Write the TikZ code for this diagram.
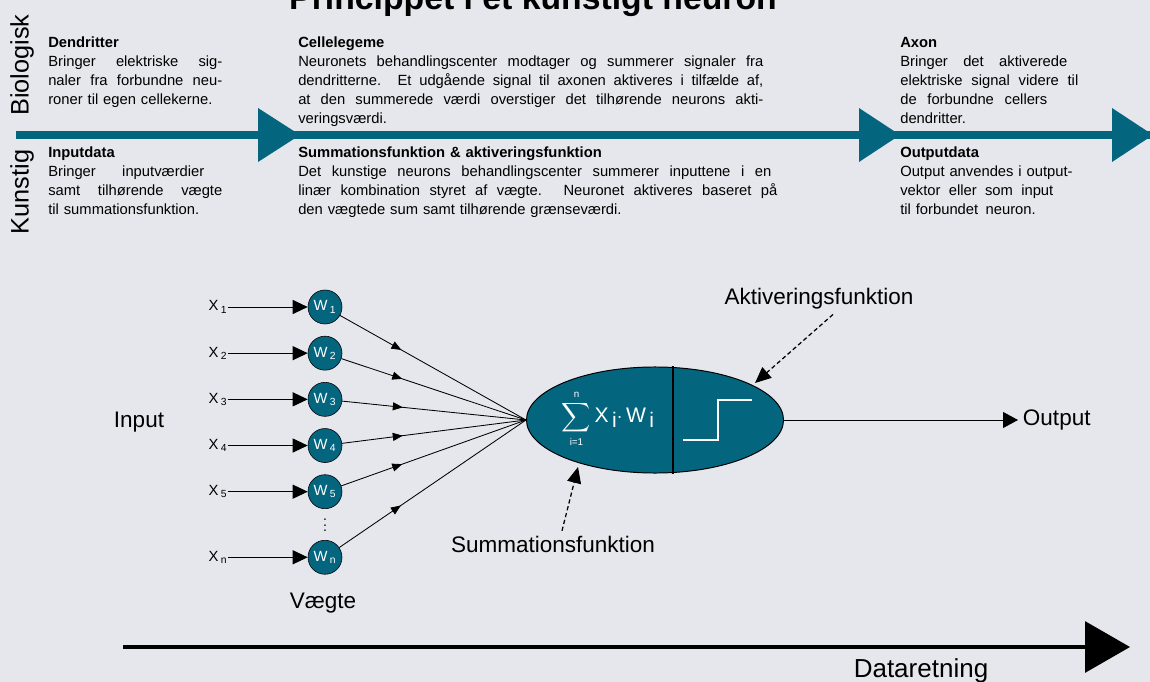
\documentclass[tikz,border=0pt]{standalone}
\usepackage{amsmath}
\usepackage{fontspec}
\setmainfont{Liberation Sans}
\usepackage{tikz}
\usetikzlibrary{shapes.geometric, arrows.meta, positioning, calc, decorations.markings}
\definecolor{bgcol}{HTML}{E5E7EC}
\definecolor{neuroteal}{HTML}{04657F}
% justified line of a given width (align=left fixes the word spaces, so reset them)
\newcommand{\jlw}[2]{{\spaceskip=0pt\xspaceskip=0pt\makebox[#1][s]{#2}}}
\newcommand{\jl}[1]{\jlw{\linewidth}{#1}}
\tikzset{
  infotxt/.style={anchor=north west, inner sep=0pt, align=left,
                  font=\fontsize{10.5}{13.5}\selectfont},
  weight/.style={circle, draw=black, fill=neuroteal, minimum size=0.85cm,
                 inner sep=0pt, text=white, font=\fontsize{10.5}{12}\selectfont},
  xlabel/.style={inner sep=0pt, font=\fontsize{10.5}{12}\selectfont},
  biglabel/.style={font=\fontsize{16}{19}\selectfont},
  sidelabel/.style={rotate=90, font=\fontsize{18}{21}\selectfont},
  feed/.style={-{Triangle[length=0.375cm,width=0.35cm]}, line width=0.7pt},
  synapse/.style={line width=0.6pt, postaction={decorate},
                  decoration={markings, mark=at position 0.33 with {\arrow{Triangle[length=0.25cm,width=0.2cm]}}}},
  pointer/.style={densely dashed, line width=0.9pt, -{Triangle[length=0.4cm,width=0.35cm]}},
  banner/.style={neuroteal, line width=0.2cm},
}

\begin{document}
\begin{tikzpicture}[x=0.025cm, y=-0.025cm]
  \fill[bgcol] (0,0) rectangle (1150,682);
  \useasboundingbox (0,0) rectangle (1150,682);

  % title and side labels
  \node[font=\bfseries\fontsize{24}{28}\selectfont, anchor=base] (title) at (533,10) {Princippet i et kunstigt neuron};
  \node[sidelabel] (bio) at (22,65) {Biologisk};
  \node[sidelabel] (kunst) at (22,192) {Kunstig};

  % teal band
  \coordinate (bandstart) at (16,135);
  \coordinate (bandend) at (1150,135);
  \draw[banner] (bandstart) -- (bandend);
  \fill[neuroteal] (258,108) -- (300,135) -- (258,162) -- cycle;
  \fill[neuroteal] (859,108) -- (900,135) -- (859,162) -- cycle;
  \fill[neuroteal] (1112,108) -- (1153,135) -- (1112,162) -- cycle;

  % texts above and below the band
  \node[infotxt, text width=4.35cm] (dendrit) at (48,37)
    {\textbf{Dendritter}\\ \jl{Bringer elektriske sig-}\\ \jl{naler fra forbundne neu-}\\ roner til egen cellekerne.};
  \node[infotxt, text width=4.35cm] (inputdata) at (48,147)
    {\textbf{Inputdata}\\ \jlw{3.9cm}{Bringer inputværdier}\\ \jl{samt tilhørende vægte}\\ til summationsfunktion.};
  \node[infotxt, text width=11.625cm] (celle) at (298,37)
    {\textbf{Cellelegeme}\\
     \jl{Neuronets behandlingscenter modtager og summerer signaler fra}\\
     \jl{dendritterne. Et udgående signal til axonen aktiveres i tilfælde af,}\\
     \jl{at den summerede værdi overstiger det tilhørende neurons akti-}\\
     veringsværdi.};
  \node[infotxt, text width=11.975cm] (sumakt) at (298,147)
    {\textbf{Summationsfunktion \& aktiveringsfunktion}\\
     \jlw{11.825cm}{Det kunstige neurons behandlingscenter summerer inputtene i en}\\
     \jl{linær kombination styret af vægte. Neuronet aktiveres baseret på}\\
     den vægtede sum samt tilhørende grænseværdi.};
  \node[infotxt, text width=4.45cm] (axon) at (900,37)
    {\textbf{Axon}\\ \jlw{4.175cm}{Bringer det aktiverede}\\ \jl{elektriske signal videre til}\\ \jlw{3.675cm}{de forbundne cellers}\\ dendritter.};
  \node[infotxt, text width=4.45cm] (outputdata) at (900,147)
    {\textbf{Outputdata}\\ Output anvendes i output-\\ \jlw{3.825cm}{vektor eller som input}\\ til forbundet\, neuron.};

  % weights
  \node[weight] (w1) at (325,307) {W\,\textsubscript{1}};
  \node[weight, below=0.29cm of w1] (w2) {W\,\textsubscript{2}};
  \node[weight, below=0.29cm of w2] (w3) {W\,\textsubscript{3}};
  \node[weight, below=0.29cm of w3] (w4) {W\,\textsubscript{4}};
  \node[weight, below=0.29cm of w4] (w5) {W\,\textsubscript{5}};
  \node[weight, below=0.775cm of w5] (wn) {W\,\textsubscript{n}};
  \node[inner sep=0pt] (dots) at ($(w5)!0.45!(wn)$) {$\vdots$};

  % inputs
  \node[xlabel, left=2cm of w1] (x1) {X\,\textsubscript{1}};
  \node[xlabel, left=2cm of w2] (x2) {X\,\textsubscript{2}};
  \node[xlabel, left=2cm of w3] (x3) {X\,\textsubscript{3}};
  \node[xlabel, left=2cm of w4] (x4) {X\,\textsubscript{4}};
  \node[xlabel, left=2cm of w5] (x5) {X\,\textsubscript{5}};
  \node[xlabel, left=2cm of wn] (xn) {X\,\textsubscript{n}};
  \foreach \i in {1,2,3,4,5,n}
    \draw[feed] (x\i) -- (w\i);

  \node[biglabel] (inlabel) at (139,422) {Input};
  \node[biglabel] (vaegte) at (323,603) {Vægte};

  % neuron body
  \node[ellipse, draw=black, line width=0.7pt, fill=neuroteal, minimum width=6.425cm,
        minimum height=2.65cm, inner sep=0pt] (neuron) at (655,420) {};
  \draw[line width=0.8pt] ($(neuron.north)+(18,0)$) -- ($(neuron.south)+(18,0)$);
  \node[text=white, font=\fontsize{15}{18}\selectfont] (sumf) at (608,419)
    {$\displaystyle\sum_{\text{\fontsize{7}{8}\selectfont i=1}}^{\text{\fontsize{7}{8}\selectfont n}}$\,X\,\raisebox{-0.45ex}{i}$\cdot$\,W\,\raisebox{-0.45ex}{i}};
  \draw[white, line width=1.2pt] ($(neuron.center)+(28,20)$) -- ++(35,0) -- ++(0,-40) -- ++(34,0);

  \foreach \w in {w1,w2,w3,w4,w5,wn}
    \draw[synapse] (\w) -- (neuron.west);

  % output
  \node[biglabel, anchor=west] (outlabel) at (1018,420) {Output};
  \draw[-{Triangle[length=0.375cm,width=0.4cm]}, line width=0.7pt] (neuron.east) -- (outlabel.west);

  % function labels
  \node[biglabel] (aktlabel) at (819,299) {Aktiveringsfunktion};
  \coordinate (aktpt) at (755,383);
  \draw[pointer] ([xshift=0.35cm]aktlabel.south) -- (aktpt);
  \node[biglabel] (sumlabel) at (553,544) {Summationsfunktion};
  \coordinate (sumpt) at (578,467);
  \draw[pointer] ([xshift=0.225cm]sumlabel.north) -- (sumpt);

  % data direction
  \coordinate (datastart) at (123,647);
  \coordinate (dataend) at (1130,647);
  \draw[line width=2.2pt, -{Triangle[length=1.125cm,width=1.275cm]}] (datastart) -- (dataend);
  \node[font=\fontsize{18.5}{22}\selectfont] (dataret) at (921,671) {Dataretning};
\end{tikzpicture}
\end{document}
